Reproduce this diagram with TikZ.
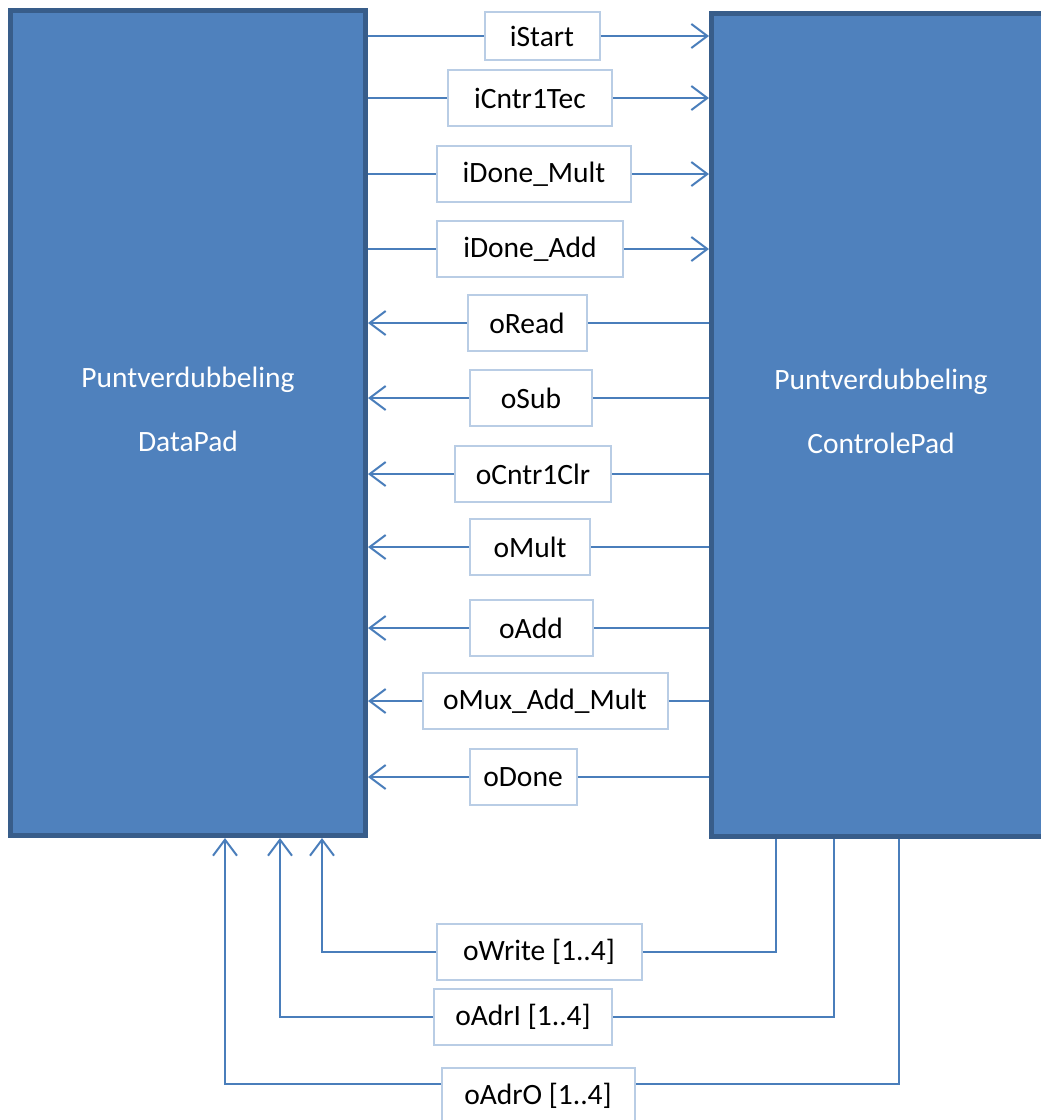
\documentclass[tikz,border=0pt]{standalone}
\usepackage{fontspec}
\setmainfont{Carlito}
\usetikzlibrary{arrows.meta,positioning}
\definecolor{blockfill}{HTML}{4F81BD}
\definecolor{blockline}{HTML}{385D8A}
\definecolor{wire}{HTML}{4A7EBB}
\definecolor{lblline}{HTML}{B9CDE5}

\begin{document}
\begin{tikzpicture}[
  x=1pt, y=-1pt,
  font=\fontsize{29.5}{35}\selectfont,
  block/.style={draw=blockline, fill=blockfill, line width=5pt, inner sep=0pt},
  blocktxt/.style={text=white, align=center},
  lbl/.style={draw=lblline, fill=white, line width=2pt, inner sep=0pt, minimum height=56pt},
  ln/.style={draw=wire, line width=2pt},
  arr/.style={ln, -{Straight Barb[length=16pt, width=24pt]}}
]
\clip (0,0) rectangle (1041,1120);
% the two blocks
\node[block, minimum width=355pt, minimum height=825pt] (data) at (188,423) {};
\node[block, minimum width=339pt, minimum height=823pt] (ctrl) at (881,425) {};
\node[blocktxt] (datatxt) at ([yshift=14pt]data.center) {Puntverdubbeling\\[29pt]DataPad};
\node[blocktxt] (ctrltxt) at ([yshift=14pt]ctrl.center) {Puntverdubbeling\\[29pt]ControlePad};

% signal names
\node[lbl, minimum width=115pt, minimum height=48pt] (iStart) at (542,36) {iStart};
\node[lbl, minimum width=164pt] (iCntr) at (530,98) {iCntr1Tec};
\node[lbl, minimum width=194pt] (iMult) at (534,174) {iDone\_Mult};
\node[lbl, minimum width=186pt] (iAdd) at (530,249) {iDone\_Add};
\node[lbl, minimum width=119pt] (oRead) at (527,323) {oRead};
\node[lbl, minimum width=122pt] (oSub) at (531,398) {oSub};
\node[lbl, minimum width=156pt] (oClr) at (533,474) {oCntr1Clr};
\node[lbl, minimum width=120pt] (oMult) at (530,547) {oMult};
\node[lbl, minimum width=123pt] (oAdd) at (531,628) {oAdd};
\node[lbl, minimum width=245pt] (oMux) at (545,701) {oMux\_Add\_Mult};
\node[lbl, minimum width=107pt] (oDone) at (523,777) {oDone};
\node[lbl, minimum width=205pt] (oWrite) at (539,952) {oWrite [1..4]};
\node[lbl, minimum width=178pt] (oAdrI) at (523,1017) {oAdrI [1..4]};
\node[lbl, minimum width=193pt] (oAdrO) at (538,1096) {oAdrO [1..4]};

% DataPad -> ControlePad
\draw[ln] (iStart.west -| data.east) -- (iStart.west);
\draw[arr] (iStart.east) -- (iStart.east -| ctrl.west);
\draw[ln] (iCntr.west -| data.east) -- (iCntr.west);
\draw[arr] (iCntr.east) -- (iCntr.east -| ctrl.west);
\draw[ln] (iMult.west -| data.east) -- (iMult.west);
\draw[arr] (iMult.east) -- (iMult.east -| ctrl.west);
\draw[ln] (iAdd.west -| data.east) -- (iAdd.west);
\draw[arr] (iAdd.east) -- (iAdd.east -| ctrl.west);

% ControlePad -> DataPad
\draw[ln] (oRead.east -| ctrl.west) -- (oRead.east);
\draw[arr] (oRead.west) -- (oRead.west -| data.east);
\draw[ln] (oSub.east -| ctrl.west) -- (oSub.east);
\draw[arr] (oSub.west) -- (oSub.west -| data.east);
\draw[ln] (oClr.east -| ctrl.west) -- (oClr.east);
\draw[arr] (oClr.west) -- (oClr.west -| data.east);
\draw[ln] (oMult.east -| ctrl.west) -- (oMult.east);
\draw[arr] (oMult.west) -- (oMult.west -| data.east);
\draw[ln] (oAdd.east -| ctrl.west) -- (oAdd.east);
\draw[arr] (oAdd.west) -- (oAdd.west -| data.east);
\draw[ln] (oMux.east -| ctrl.west) -- (oMux.east);
\draw[arr] (oMux.west) -- (oMux.west -| data.east);
\draw[ln] (oDone.east -| ctrl.west) -- (oDone.east);
\draw[arr] (oDone.west) -- (oDone.west -| data.east);

% busses underneath
\draw[ln] ([xshift=-105pt]ctrl.south) |- (oWrite.east);
\draw[arr] (oWrite.west) -| ([xshift=134pt]data.south);
\draw[ln] ([xshift=-47pt]ctrl.south) |- (oAdrI.east);
\draw[arr] (oAdrI.west) -| ([xshift=92pt]data.south);
\draw[ln] ([xshift=18pt]ctrl.south) |- ([yshift=12pt]oAdrO.east);
\draw[arr] ([yshift=12pt]oAdrO.west) -| ([xshift=37pt]data.south);
\end{tikzpicture}
\end{document}
